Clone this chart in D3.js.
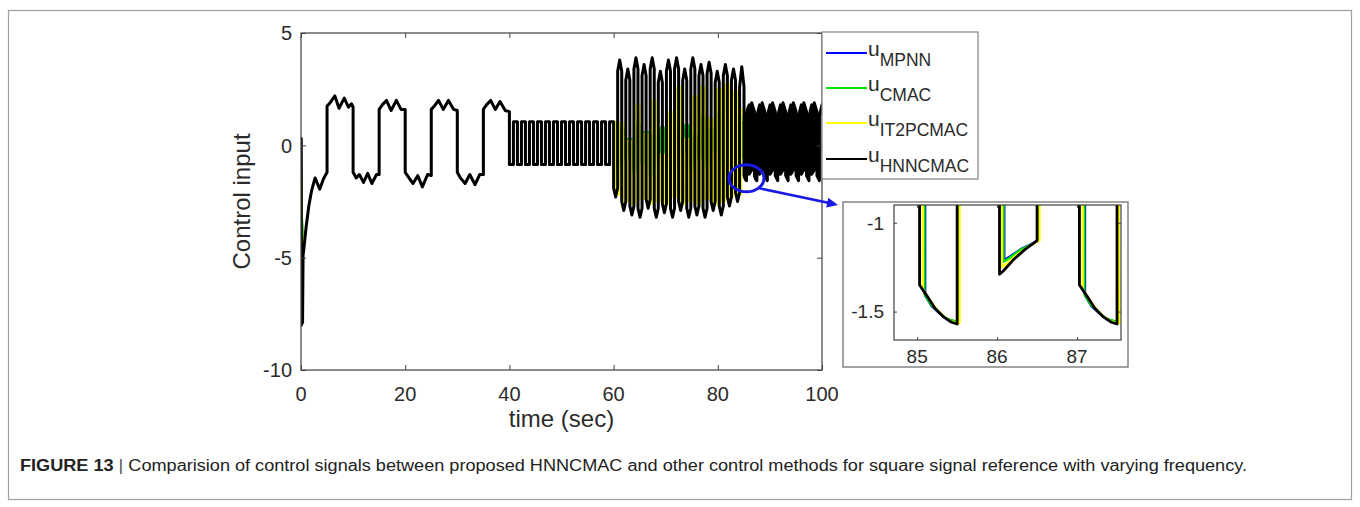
<!DOCTYPE html>
<html>
<head>
<meta charset="utf-8">
<script src="https://cdn.jsdelivr.net/npm/d3@7"></script>
<style>
  html, body { margin: 0; padding: 0; background: #fff; }
  svg { display: block; font-family: "Liberation Sans", Arial, Helvetica, sans-serif; }
</style>
</head>
<body>
<svg id="fig" width="1360" height="507"></svg>
<script>
// ---------------- data ----------------
const xTicks = [0, 20, 40, 60, 80, 100];
const yTicks = [-10, -5, 0, 5];
const insetXTicks = [85, 86, 87];
const insetYTicks = [-1.5, -1];

const methods = ["MPNN", "CMAC", "IT2PCMAC", "HNNCMAC"];
const methodColors = ["#0000ff", "#00e600", "#ffff00", "#000000"];

// initial transient (0 – 0.6 s), [t, u]
const startMPNN = [[0, -0.2], [0.2, -3.2], [0.4, -4.4], [0.6, -4.5]];
const startCMAC = [[0, -0.1], [0.2, -3.0], [0.4, -4.3], [0.6, -4.5]];
const startIT2 = [[0, 0.2], [0.15, -2.8], [0.35, -4.6], [0.6, -4.5]];
const startHNN = [[0.05, 0.3], [0.1, -8.0], [0.2, -5.0], [0.3, -7.9], [0.4, -4.9], [0.6, -4.5]];

// 0.6 – 40 s: the four control signals lie on top of each other, [t, u]
const common0to40 = [
  [0.6, -4.5], [1.0, -3.6], [1.5, -2.7], [2.0, -2.05], [2.7, -1.45], [3.6, -1.95], [4.3, -1.5], [5.0, -1.2],
  [5.0, 1.75], [5.6, 1.9], [6.5, 2.2], [7.3, 1.65], [8.3, 2.1], [9.1, 1.7], [9.7, 1.85], [10.0, 1.7],
  [10.0, -1.2], [10.6, -1.45], [11.2, -1.3], [12.0, -1.65], [12.8, -1.25], [13.6, -1.7], [14.5, -1.3], [15.0, -1.3],
  [15.0, 1.6], [15.6, 1.8], [16.4, 2.0], [17.3, 1.55], [18.3, 2.0], [19.2, 1.6], [20.0, 1.6],
  [20.0, -1.2], [20.6, -1.4], [21.5, -1.7], [22.4, -1.35], [23.3, -1.85], [24.3, -1.3], [25.0, -1.35],
  [25.0, 1.6], [25.6, 1.75], [26.4, 2.0], [27.3, 1.6], [28.3, 2.0], [29.3, 1.6], [30.0, 1.55],
  [30.0, -1.2], [30.6, -1.45], [31.5, -1.7], [32.4, -1.3], [33.4, -1.75], [34.3, -1.3], [35.0, -1.3],
  [35.0, 1.6], [35.6, 1.8], [36.4, 2.0], [37.3, 1.6], [38.2, 1.95], [39.2, 1.55], [40.0, 1.5]
];

// 40 – 60 s: switching instants and held levels (common to all methods)
const times4060 = [40, 40.77, 41.54, 42.31, 43.08, 43.85, 44.62, 45.38, 46.15, 46.92, 47.69, 48.46, 49.23,
  50, 50.77, 51.54, 52.31, 53.08, 53.85, 54.62, 55.38, 56.15, 56.92, 57.69, 58.46, 59.23];
const levels4060 = [-0.85, 1.05, -0.85, 1.05, -0.85, 1.05, -0.85, 1.05, -0.85, 1.05, -0.85, 1.05, -0.85,
  1.05, -0.85, 1.05, -0.85, 1.05, -0.85, 1.05, -0.85, 1.05, -0.85, 1.05, -0.85, 1.05];

// 60 – 85 s: switching instants of HNNCMAC
const times6085 = [60, 60.78, 61.56, 62.34, 63.12, 63.9, 64.68, 65.46, 66.24, 67.02, 67.8, 68.58, 69.36,
  70.14, 70.92, 71.7, 72.48, 73.26, 74.04, 74.82, 75.6, 76.38, 77.16, 77.94, 78.72, 79.5, 80.28, 81.06,
  81.84, 82.62, 83.4, 84.18];
// HNNCMAC: value at both ends of each half-cycle and its extreme value in the middle
const hnnEdge6085 = [-1.9, 3.3, -2.5, 2.9, -2.7, 3.4, -2.8, 3.1, -2.4, 3.4, -2.8, 2.8, -2.6, 3.3, -2.8, 3.4,
  -2.5, 2.9, -2.8, 3.4, -2.7, 3.1, -2.8, 3.2, -2.5, 2.8, -2.7, 3.1, -2.3, 2.9, -2.1, 2.6];
const hnnCrest6085 = [-2.3, 3.8, -2.9, 3.4, -3.1, 3.9, -3.2, 3.6, -2.8, 3.9, -3.2, 3.3, -3.0, 3.8, -3.2, 3.9,
  -2.9, 3.4, -3.2, 3.9, -3.1, 3.6, -3.2, 3.7, -2.9, 3.3, -3.1, 3.6, -2.7, 3.4, -2.5, 3.5];
// held levels of the other methods, which switch slightly later
const it2Levels6085 = [-2.2, 1.0, -2.5, 0.2, -2.6, 1.8, -2.4, 0.5, -2.6, 2.0, -2.5, -0.4, -2.6, 1.5, -2.3, 2.6,
  -2.6, 0.3, -2.5, 2.2, -2.6, 2.6, -2.4, 1.2, -2.6, 2.5, -2.5, 2.7, -2.3, 2.4, -2.2, 1.6];
const cmacLevels6085 = [-1.0, 0.8, -0.6, 0.3, -1.2, 0.9, -0.8, 0.6, -1.3, 0.4, -0.7, 0.8, -1.2, 0.2, -1.0, 1.0,
  -0.4, 0.9, -1.1, 0.5, -0.6, 1.3, -0.9, 0.7, -0.3, 1.4, -1.0, 0.9, -0.8, 0.8, -0.6, 1.2];
const mpnnLevels6085 = [-0.8, 0.6, -0.4, 0.1, -1.0, 0.7, -0.6, 0.4, -1.1, 0.2, -0.5, 0.6, -1.0, 0.0, -0.8, 0.8,
  -0.2, 0.7, -0.9, 0.3, -0.4, 1.1, -0.7, 0.5, -0.1, 1.2, -0.8, 0.7, -0.4, 1.0, -0.5, 1.0];
// switching delay of each method relative to HNNCMAC in this interval (s)
const switchDelay = { MPNN: 0.4, CMAC: 0.38, IT2PCMAC: 0.35, HNNCMAC: 0 };

// 85 – 87.5 s in detail (zoomed panel), [t, u]
const hnnDetail = [
  [85.03, 1.6],
  [85.03, -1.35], [85.12, -1.41], [85.22, -1.48], [85.33, -1.53], [85.43, -1.56], [85.5, -1.57],
  [85.5, 1.3], [85.75, 1.65], [86.03, 1.8],
  [86.03, -1.29], [86.08, -1.27], [86.2, -1.21], [86.35, -1.15], [86.5, -1.1],
  [86.5, 1.9], [87.03, 1.5],
  [87.03, -1.35], [87.12, -1.41], [87.22, -1.48], [87.33, -1.53], [87.43, -1.56], [87.5, -1.57]
];
const it2Detail = [
  [85.07, 1.6],
  [85.07, -1.37], [85.15, -1.43], [85.25, -1.49], [85.35, -1.535], [85.45, -1.56], [85.53, -1.565],
  [85.53, 1.3], [86.06, 1.8],
  [86.06, -1.25], [86.12, -1.23], [86.25, -1.18], [86.4, -1.13], [86.53, -1.1],
  [86.53, 1.9], [87.07, 1.5],
  [87.07, -1.37], [87.15, -1.43], [87.25, -1.49], [87.35, -1.535], [87.45, -1.56], [87.53, -1.565]
];
const cmacDetail = [
  [85.09, 1.6],
  [85.09, -1.4], [85.17, -1.46], [85.27, -1.505], [85.37, -1.54], [85.52, -1.56],
  [85.52, 1.3], [86.08, 1.8],
  [86.08, -1.22], [86.15, -1.2], [86.3, -1.15], [86.52, -1.1],
  [86.52, 1.9], [87.09, 1.5],
  [87.09, -1.4], [87.17, -1.46], [87.27, -1.505], [87.37, -1.54], [87.52, -1.56]
];
const mpnnDetail = [
  [85.1, 1.6],
  [85.1, -1.41], [85.18, -1.47], [85.28, -1.51], [85.38, -1.545], [85.52, -1.56],
  [85.52, 1.3], [86.09, 1.8],
  [86.09, -1.21], [86.16, -1.19], [86.31, -1.145], [86.52, -1.1],
  [86.52, 1.9], [87.1, 1.5],
  [87.1, -1.41], [87.18, -1.47], [87.28, -1.51], [87.38, -1.545], [87.52, -1.56]
];

// 87.5 – 100 s: [switch time, value after switch, value before next switch], common to all methods
const tail87to100 = [
  [87.5, 1.3, 1.8], [88.03, -1.29, -1.1], [88.5, 1.9, 1.5], [89.03, -1.35, -1.57], [89.5, 1.3, 1.8],
  [90.03, -1.29, -1.1], [90.5, 1.9, 1.5], [91.03, -1.35, -1.57], [91.5, 1.3, 1.8], [92.03, -1.29, -1.1],
  [92.5, 1.9, 1.5], [93.03, -1.35, -1.57], [93.5, 1.3, 1.8], [94.03, -1.29, -1.1], [94.5, 1.9, 1.5],
  [95.03, -1.35, -1.57], [95.5, 1.3, 1.8], [96.03, -1.29, -1.1], [96.5, 1.9, 1.5], [97.03, -1.35, -1.57],
  [97.5, 1.3, 1.8], [98.03, -1.29, -1.1], [98.5, 1.9, 1.5], [99.03, -1.35, -1.57], [99.5, 1.3, 1.8]
];

const captionBold = "FIGURE 13";
const captionText = "Comparision of control signals between proposed HNNCMAC and other control methods for square signal reference with varying frequency.";

// ---------------- series assembly ----------------
// level held from each switching instant to the next
function held(times, levels, lag, tEnd) {
  const v = [];
  times.forEach((t, i) => {
    const tNext = i + 1 < times.length ? times[i + 1] + lag : tEnd;
    v.push([t + lag, levels[i]], [tNext, levels[i]]);
  });
  return v;
}
// half-cycles that bulge from an edge value to a crest value and back
function arched(times, edges, crests, tEnd) {
  const v = [];
  times.forEach((t, i) => {
    const tNext = i + 1 < times.length ? times[i + 1] : tEnd;
    v.push([t, edges[i]], [(t + tNext) / 2, crests[i]], [tNext, edges[i]]);
  });
  return v;
}
// half-cycles drifting from the value after a switch to the value before the next one
function ramps(cycles, tEnd) {
  const v = [];
  cycles.forEach((c, i) => {
    const tNext = i + 1 < cycles.length ? cycles[i + 1][0] : tEnd;
    v.push([c[0], c[1]], [tNext, c[2]]);
  });
  return v;
}
function assemble(start, part6085, lag, detail) {
  return [
    ...start,
    ...common0to40,
    ...held(times4060, levels4060, 0, 60 + lag),
    ...part6085,
    ...detail,
    ...ramps(tail87to100, 100)
  ];
}
const series = [
  { name: "MPNN", values: assemble(startMPNN,
      held(times6085, mpnnLevels6085, switchDelay.MPNN, mpnnDetail[0][0]), switchDelay.MPNN, mpnnDetail) },
  { name: "CMAC", values: assemble(startCMAC,
      held(times6085, cmacLevels6085, switchDelay.CMAC, cmacDetail[0][0]), switchDelay.CMAC, cmacDetail) },
  { name: "IT2PCMAC", values: assemble(startIT2,
      held(times6085, it2Levels6085, switchDelay.IT2PCMAC, it2Detail[0][0]), switchDelay.IT2PCMAC, it2Detail) },
  { name: "HNNCMAC", values: assemble(startHNN,
      arched(times6085, hnnEdge6085, hnnCrest6085, hnnDetail[0][0]), switchDelay.HNNCMAC, hnnDetail) }
];
const colorOf = d3.scaleOrdinal().domain(methods).range(methodColors);
const widthOf = name => (name === "HNNCMAC" ? 3.0 : 1.7);

// ---------------- drawing ----------------
const svg = d3.select("#fig");
const axisColor = "#404040";
const textColor = "#2b2b2b";

// page frame
svg.append("rect")
  .attr("x", 8.5).attr("y", 10.5).attr("width", 1343).attr("height", 489)
  .attr("fill", "none").attr("stroke", "#a0a0a0").attr("stroke-width", 1.2);

const plot = { left: 301, right: 822, top: 33, bottom: 370 };
const x = d3.scaleLinear().domain([0, 100]).range([plot.left, plot.right]);
const y = d3.scaleLinear().domain([-10, 5]).range([plot.bottom, plot.top]);

const defs = svg.append("defs");
defs.append("clipPath").attr("id", "mainClip").append("rect")
  .attr("x", plot.left).attr("y", plot.top)
  .attr("width", plot.right - plot.left).attr("height", plot.bottom - plot.top);

const mainLine = d3.line().x(d => x(d[0])).y(d => y(d[1]));

svg.append("g").attr("clip-path", "url(#mainClip)")
  .selectAll("path").data(series).join("path")
  .attr("d", d => mainLine(d.values))
  .attr("fill", "none")
  .attr("stroke", d => colorOf(d.name))
  .attr("stroke-width", d => widthOf(d.name))
  .attr("stroke-linejoin", "round")
  .attr("stroke-linecap", "round");

// axes box with inward ticks on all sides
function boxAxes(g, sx, sy, xt, yt, tickLen) {
  const [x0, x1] = sx.range();
  const [y0, y1] = sy.range();
  g.append("rect")
    .attr("x", x0).attr("y", y1).attr("width", x1 - x0).attr("height", y0 - y1)
    .attr("fill", "none").attr("stroke", axisColor).attr("stroke-width", 1.2);
  const bottomAxis = d3.axisBottom(sx).tickValues(xt).tickSize(-tickLen).tickFormat("");
  const topAxis = d3.axisTop(sx).tickValues(xt).tickSize(-tickLen).tickFormat("");
  const leftAxis = d3.axisLeft(sy).tickValues(yt).tickSize(-tickLen).tickFormat("");
  const rightAxis = d3.axisRight(sy).tickValues(yt).tickSize(-tickLen).tickFormat("");
  [[bottomAxis, `translate(0,${y0})`], [topAxis, `translate(0,${y1})`],
   [leftAxis, `translate(${x0},0)`], [rightAxis, `translate(${x1},0)`]].forEach(([ax, tr]) => {
    const a = g.append("g").attr("transform", tr).call(ax);
    a.select(".domain").remove();
    a.selectAll("line").attr("stroke", axisColor).attr("stroke-width", 1);
  });
}
boxAxes(svg.append("g"), x, y, xTicks, yTicks, 5);

// tick labels
svg.append("g").selectAll("text").data(xTicks).join("text")
  .attr("x", d => x(d)).attr("y", 401)
  .attr("text-anchor", "middle").attr("font-size", 20).attr("fill", textColor)
  .text(d => d);
svg.append("g").selectAll("text").data(yTicks).join("text")
  .attr("x", plot.left - 9).attr("y", d => y(d)).attr("dy", "0.36em")
  .attr("text-anchor", "end").attr("font-size", 20).attr("fill", textColor)
  .text(d => d);

// axis titles
svg.append("text")
  .attr("x", (plot.left + plot.right) / 2).attr("y", 427)
  .attr("text-anchor", "middle").attr("font-size", 24).attr("fill", textColor)
  .text("time (sec)");
svg.append("text")
  .attr("transform", `translate(250,${(plot.top + plot.bottom) / 2}) rotate(-90)`)
  .attr("text-anchor", "middle").attr("font-size", 24).attr("fill", textColor)
  .text("Control input");

// legend
const legend = { left: 822, top: 32, width: 156, height: 147, rowY: [53, 88, 123, 159] };
const lg = svg.append("g");
lg.append("rect")
  .attr("x", legend.left).attr("y", legend.top).attr("width", legend.width).attr("height", legend.height)
  .attr("fill", "#fff").attr("stroke", "#808080").attr("stroke-width", 1.2);
methods.forEach((m, i) => {
  const ry = legend.rowY[i];
  lg.append("line")
    .attr("x1", legend.left + 4).attr("x2", legend.left + 45)
    .attr("y1", ry).attr("y2", ry)
    .attr("stroke", colorOf(m)).attr("stroke-width", 2.2);
  const t = lg.append("text").attr("x", legend.left + 46).attr("y", ry + 3).attr("fill", textColor);
  t.append("tspan").attr("font-size", 21).text("u");
  t.append("tspan").attr("font-size", 17.5).attr("dy", 10).text(m);
});

// zoom-in panel around 85–87.5 s
const inset = { left: 843, top: 202, right: 1128, bottom: 367 };
const ix = d3.scaleLinear().domain([84.71, 87.55]).range([894, 1121]);
const iy = d3.scaleLinear().domain([-1.66, -0.9]).range([340, 205]);

svg.append("rect")
  .attr("x", inset.left).attr("y", inset.top)
  .attr("width", inset.right - inset.left).attr("height", inset.bottom - inset.top)
  .attr("fill", "#fff").attr("stroke", "#707070").attr("stroke-width", 1.3);

defs.append("clipPath").attr("id", "insetClip").append("rect")
  .attr("x", ix.range()[0]).attr("y", iy.range()[1])
  .attr("width", ix.range()[1] - ix.range()[0]).attr("height", iy.range()[0] - iy.range()[1]);

const insetLine = d3.line().x(d => ix(d[0])).y(d => iy(d[1]));
svg.append("g").attr("clip-path", "url(#insetClip)")
  .selectAll("path").data(series).join("path")
  .attr("d", d => insetLine(d.values.filter(p => p[0] >= 84.0 && p[0] <= 88.6)))
  .attr("fill", "none")
  .attr("stroke", d => colorOf(d.name))
  .attr("stroke-width", d => (d.name === "HNNCMAC" ? 2.8 : 2.3))
  .attr("stroke-linejoin", "round");

boxAxes(svg.append("g"), ix, iy, insetXTicks, insetYTicks, 3);
svg.append("g").selectAll("text").data(insetXTicks).join("text")
  .attr("x", d => ix(d)).attr("y", 363)
  .attr("text-anchor", "middle").attr("font-size", 19).attr("fill", textColor)
  .text(d => d);
svg.append("g").selectAll("text").data(insetYTicks).join("text")
  .attr("x", 884).attr("y", d => iy(d)).attr("dy", "0.36em")
  .attr("text-anchor", "end").attr("font-size", 19).attr("fill", textColor)
  .text(d => d);

// highlight ellipse and arrow pointing to the zoom panel
const annBlue = "#1a1ae6";
const ecx = x(85.5), ecy = y(-1.47);
svg.append("ellipse")
  .attr("cx", ecx).attr("cy", ecy).attr("rx", 17.5).attr("ry", 13.5)
  .attr("fill", "none").attr("stroke", annBlue).attr("stroke-width", 3);
const ax0 = ecx + 13, ay0 = ecy + 10, ax1 = inset.left - 5, ay1 = inset.top + 3;
svg.append("line")
  .attr("x1", ax0).attr("y1", ay0).attr("x2", ax1 - 4).attr("y2", ay1 - 1)
  .attr("stroke", annBlue).attr("stroke-width", 2.5);
const ang = Math.atan2(ay1 - ay0, ax1 - ax0);
const head = [[0, 0], [-11, -5], [-11, 5]].map(([px, py]) => [
  ax1 + px * Math.cos(ang) - py * Math.sin(ang),
  ay1 + px * Math.sin(ang) + py * Math.cos(ang)
]);
svg.append("path").attr("d", "M" + head.map(p => p.join(",")).join("L") + "Z").attr("fill", annBlue);

// caption
const cap = svg.append("text").attr("x", 20).attr("y", 471).attr("font-size", 16).attr("fill", "#222");
cap.append("tspan").attr("font-weight", "bold").text(captionBold + " ");
cap.append("tspan").attr("fill", "#555").text("| ");
cap.append("tspan").text(captionText);
const capW = cap.node().getComputedTextLength();
const targetW = 1228;
cap.attr("transform", `translate(20,0) scale(${targetW / capW},1) translate(-20,0)`);
</script>
</body>
</html>
